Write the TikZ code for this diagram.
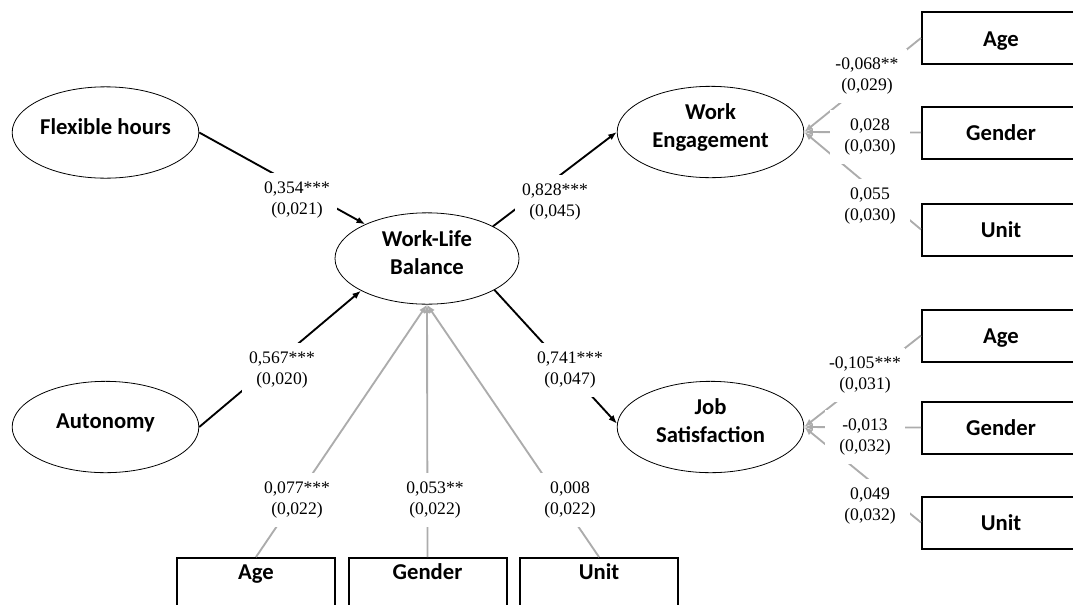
\documentclass[tikz,border=0pt]{standalone}
\usepackage{fontspec}
\setmainfont{Liberation Serif}
\newfontfamily\varfont{Carlito}
\usetikzlibrary{arrows.meta,shapes.geometric}
\definecolor{ctrlgray}{RGB}{172,172,172}
% centred, slightly raised text block for the latent variables
\newcommand{\vartext}[1]{\raisebox{-1.6pt}[0pt][0pt]{\begin{tabular}{@{}c@{}}#1\end{tabular}}}
\begin{document}
\begin{tikzpicture}[x=0.75pt,y=-0.75pt,
  latent/.style={ellipse, draw, line width=0.6pt, inner sep=0pt,
    minimum width=140pt, minimum height=68.5pt,
    font=\varfont\bfseries\fontsize{17}{21}\selectfont},
  observed/.style={rectangle, draw, line width=1.5pt, inner sep=0pt,
    minimum width=118.5pt, minimum height=39pt, text height=12pt, text depth=0pt,
    font=\varfont\bfseries\fontsize{17}{21}\selectfont},
  observedlow/.style={rectangle, draw, line width=1.5pt, inner xsep=0pt, inner ysep=3.75pt,
    minimum width=118.5pt, text height=12pt, text depth=19.5pt, anchor=north,
    font=\varfont\bfseries\fontsize{17}{21}\selectfont},
  coef/.style={fill=white, inner sep=0pt, minimum width=60pt, minimum height=40.5pt,
    align=center, font=\fontsize{13.2}{16.3}\selectfont},
  effect/.style={line width=1.4pt, -{Latex[length=6.5pt,width=5pt]}},
  control/.style={line width=1.4pt, ctrlgray, -{Latex[length=6.5pt,width=5pt]}}
]
\useasboundingbox (0,0) rectangle (1073,604);
\clip (0,0) rectangle (1073,604);

% latent variables
\node[latent] (flex) at (105.5,132.5) {\vartext{Flexible hours}};
\node[latent] (auto) at (105.5,427) {\vartext{Autonomy}};
\node[latent, minimum width=138pt] (wlb) at (427,258.5) {\vartext{Work-Life\\Balance}};
\node[latent] (we) at (710.5,132) {\vartext{Work\\Engagement}};
\node[latent] (js) at (710.5,427) {\vartext{Job\\Satisfaction}};

% control variables, right column
\node[observed] (weage) at (1001,38) {Age};
\node[observed] (wegen) at (1001,132.5) {Gender};
\node[observed] (weunit) at (1001,229.5) {Unit};
\node[observed] (jsage) at (1001,335.5) {Age};
\node[observed] (jsgen) at (1001,427.5) {Gender};
\node[observed] (jsunit) at (1001,522.5) {Unit};

% control variables, bottom row
\node[observedlow] (wlbage) at (256,557) {Age};
\node[observedlow] (wlbgen) at (427.5,557) {Gender};
\node[observedlow] (wlbunit) at (599,557) {Unit};

% structural paths
\draw[effect] (flex.east) -- (wlb.151.7);
\draw[effect] (auto.east) -- (wlb.206);
\draw[effect] (wlb.26) -- (we.west);
\draw[effect] (wlb.-25) -- (js.178);

% control paths
\draw[control] (wlbage.north) -- (wlb.south);
\draw[control] (wlbgen.north) -- (wlb.south);
\draw[control] (wlbunit.north) -- (wlb.south);
\draw[control] (weage.west) -- (we.east);
\draw[control] (wegen.west) -- (we.east);
\draw[control] (weunit.west) -- (we.east);
\draw[control] (jsage.west) -- (js.east);
\draw[control] (jsgen.west) -- (js.east);
\draw[control] (jsunit.west) -- (js.east);

% path coefficients (standard errors)
\node[coef] (cflex) at (297,200) {0,354***\\(0,021)};
\node[coef] (cauto) at (282,370) {0,567***\\(0,020)};
\node[coef] (cwe) at (555,202) {0,828***\\(0,045)};
\node[coef] (cjs) at (570,370) {0,741***\\(0,047)};
\node[coef] (cwlbage) at (297,500) {0,077***\\(0,022)};
\node[coef] (cwlbgen) at (435,500) {0,053**\\(0,022)};
\node[coef] (cwlbunit) at (570,500) {0,008\\(0,022)};
\node[coef] (cweage) at (867,76) {-0,068**\\(0,029)};
\node[coef] (cwegen) at (870,137) {0,028\\(0,030)};
\node[coef] (cweunit) at (870,206) {0,055\\(0,030)};
\node[coef] (cjsage) at (865,375) {-0,105***\\(0,031)};
\node[coef] (cjsgen) at (865,437) {-0,013\\(0,032)};
\node[coef] (cjsunit) at (870,506) {0,049\\(0,032)};
\end{tikzpicture}
\end{document}
